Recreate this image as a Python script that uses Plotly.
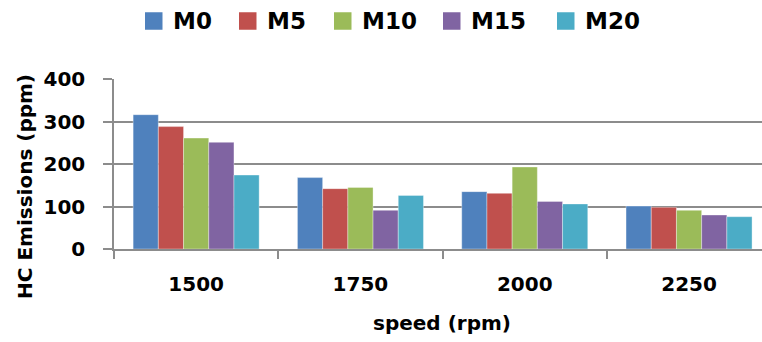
import plotly.graph_objects as go

# Engine speed categories and HC emissions per blend
speeds = ["1500", "1750", "2000", "2250"]
blends = ["M0", "M5", "M10", "M15", "M20"]
m0 = [316, 168, 135, 101]
m5 = [288, 142, 131, 98]
m10 = [261, 145, 193, 91]
m15 = [251, 91, 112, 80]
m20 = [174, 126, 106, 76]
series = [m0, m5, m10, m15, m20]
colors = ["#4F81BD", "#C0504D", "#9BBB59", "#8064A2", "#4BACC6"]

x_title = "speed (rpm)"
y_title = "HC Emissions (ppm)"

FONT = "DejaVu Sans"
AXIS_GREY = "#8c8c8c"

W, H = 762, 342
M_L, M_R, M_T, M_B = 114, 0, 79, 93
PLOT_W = W - M_L - M_R
PLOT_H = H - M_T - M_B


def px_to_paper(px, py):
    """Convert page pixel coordinates to paper coordinates of the plot area."""
    return (px - M_L) / PLOT_W, (H - M_B - py) / PLOT_H


fig = go.Figure()
for name, vals, col in zip(blends, series, colors):
    fig.add_trace(go.Bar(
        x=speeds, y=vals, name=name, showlegend=False,
        marker=dict(color=col, line=dict(color="rgba(255,255,255,0.35)", width=1)),
    ))

title_font = dict(family=FONT, size=20, color="black", weight="bold")
legend_font = dict(family=FONT, size=23, color="black", weight="bold")

# Legend row along the top: a colour swatch followed by the blend name
legend_left = [145, 239, 334, 443, 557]
swatch = 17.5
legend_mid_y = 21
shapes, annotations = [], []
for name, col, lx in zip(blends, colors, legend_left):
    x0, y0 = px_to_paper(lx, legend_mid_y + swatch / 2)
    x1, y1 = px_to_paper(lx + swatch, legend_mid_y - swatch / 2)
    shapes.append(dict(type="rect", xref="paper", yref="paper",
                       x0=x0, y0=y0, x1=x1, y1=y1,
                       fillcolor=col, line=dict(width=0)))
    tx, ty = px_to_paper(lx + 26, legend_mid_y)
    annotations.append(dict(text=name, xref="paper", yref="paper", x=tx, y=ty,
                            xanchor="left", yanchor="middle", showarrow=False,
                            font=legend_font))

xt, yt = px_to_paper(442, 323)
annotations.append(dict(text=x_title, xref="paper", yref="paper", x=xt, y=yt,
                        xanchor="center", yanchor="middle", showarrow=False,
                        font=title_font))
xt, yt = px_to_paper(25, 187)
annotations.append(dict(text=y_title, xref="paper", yref="paper", x=xt, y=yt,
                        xanchor="center", yanchor="middle", textangle=-90,
                        showarrow=False, font=title_font))

fig.update_layout(
    width=W, height=H,
    margin=dict(l=M_L, r=M_R, t=M_T, b=M_B),
    paper_bgcolor="white", plot_bgcolor="white",
    barmode="group", bargap=0.233, bargroupgap=0,
    font=dict(family=FONT, size=20, color="black", weight="bold"),
    xaxis=dict(
        range=[-0.5, 3.444],
        showline=True, linecolor=AXIS_GREY, linewidth=1.5,
        ticks="outside", tickson="boundaries", ticklen=8,
        tickcolor=AXIS_GREY, tickwidth=1.5,
        ticklabelstandoff=16,
        showgrid=False,
    ),
    yaxis=dict(
        range=[0, 400], dtick=100,
        showline=True, linecolor=AXIS_GREY, linewidth=1.5,
        ticks="outside", ticklen=9, tickcolor=AXIS_GREY, tickwidth=1.5,
        ticklabelstandoff=14,
        showgrid=True, gridcolor=AXIS_GREY, gridwidth=1.5,
        zeroline=False,
    ),
    shapes=shapes,
    annotations=annotations,
)

fig.write_html("out.html")
